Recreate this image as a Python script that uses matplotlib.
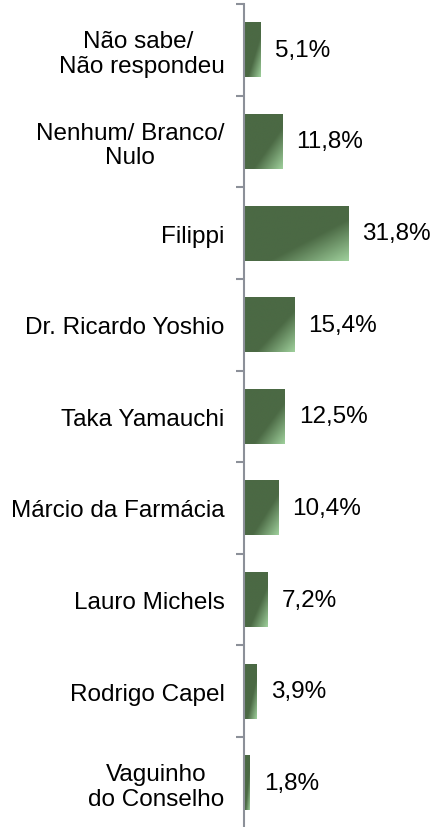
import matplotlib
matplotlib.use("Agg")
import matplotlib.pyplot as plt
import numpy as np
from matplotlib.colors import LinearSegmentedColormap

categories = [
    "Não sabe/ \nNão respondeu",
    "Nenhum/ Branco/\nNulo",
    "Filippi",
    "Dr. Ricardo Yoshio",
    "Taka Yamauchi",
    "Márcio da Farmácia",
    "Lauro Michels",
    "Rodrigo Capel",
    "Vaguinho\ndo Conselho",
]
values = [5.1, 11.8, 31.8, 15.4, 12.5, 10.4, 7.2, 3.9, 1.8]
value_labels = ["5,1%", "11,8%", "31,8%", "15,4%", "12,5%", "10,4%", "7,2%", "3,9%", "1,8%"]

plt.rcParams["font.family"] = ["Liberation Sans", "DejaVu Sans"]

DARK = "#4b6944"
LIGHT = "#9fd09c"
cmap = LinearSegmentedColormap.from_list(
    "bar", [(0.0, DARK), (0.62, DARK), (1.0, LIGHT)]
)

fig = plt.figure(figsize=(4.36, 8.28), dpi=100)
ax = fig.add_axes([244 / 436, -0.002, 1 - 244 / 436, 1 - 5 / 828 + 0.002])

y = np.arange(len(categories))
bar_h = 0.6
bars = ax.barh(y, values, height=bar_h, color="none", edgecolor="none")

# diagonal gradient inside every bar, light towards the bottom-right corner
u, v = np.meshgrid(np.linspace(0, 1, 100), np.linspace(0, 1, 100))
grad = (u + v) / 2
for b in bars:
    x0, y0 = b.get_x(), b.get_y()
    w, h = b.get_width(), b.get_height()
    im = ax.imshow(grad, cmap=cmap, vmin=0, vmax=1, aspect="auto",
                   extent=(x0, x0 + w, y0, y0 + h), origin="lower",
                   interpolation="bilinear", zorder=2)
    im.set_clip_path(b)

for yi, val, lab in zip(y, values, value_labels):
    ax.annotate(lab, (val, yi), xytext=(10, 0), textcoords="offset points",
                ha="left", va="center", fontsize=17.5, color="black")

ax.set_xlim(0, 58.7)
ax.set_ylim(len(categories) - 0.5, -0.5)

ax.set_xticks([])
ax.set_yticks(np.arange(-0.5, len(categories), 1))
ax.set_yticklabels([])
ax.tick_params(axis="y", which="major", length=6, width=1.5, color="#8c9099",
               direction="out")
ax.set_yticks(y, minor=True)
ax.set_yticklabels(categories, minor=True, fontsize=17.5, multialignment="center",
                   linespacing=1.15)
ax.tick_params(axis="y", which="minor", length=0, pad=14)

for side in ["top", "right", "bottom"]:
    ax.spines[side].set_visible(False)
ax.spines["left"].set_color("#8c9099")
ax.spines["left"].set_linewidth(1.5)

fig.savefig("out.png", dpi=100)
